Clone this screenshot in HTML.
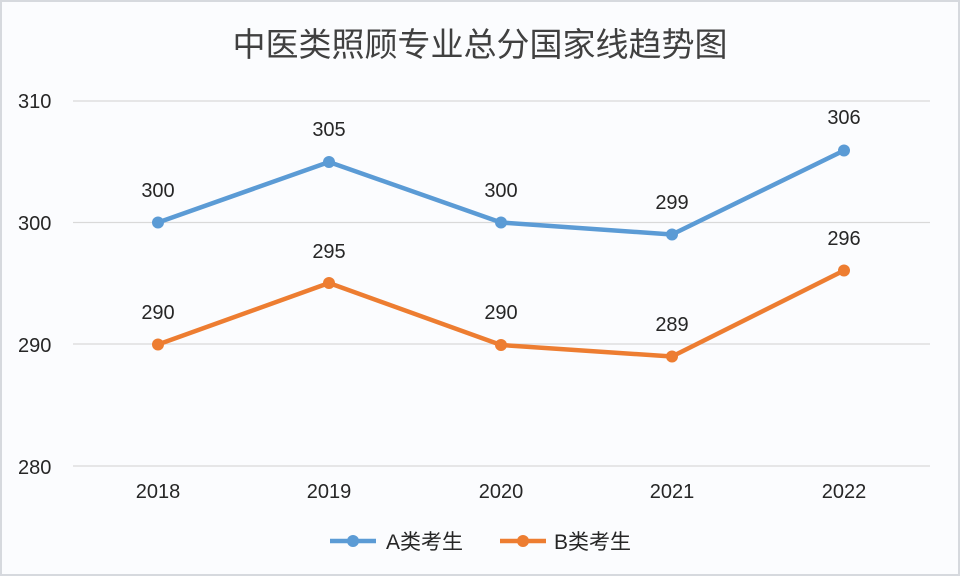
<!DOCTYPE html>
<html><head><meta charset="utf-8"><style>
html,body{margin:0;padding:0;background:#fbfcfe;}
svg{display:block;}
</style></head><body>
<svg width="960" height="576" viewBox="0 0 960 576" xmlns="http://www.w3.org/2000/svg" font-family="'Liberation Sans','Noto Sans CJK SC',sans-serif">
<rect x="0" y="0" width="960" height="576" fill="#fbfcfe"/>
<rect x="1" y="1" width="958" height="574" fill="none" stroke="#d6d9de" stroke-width="2"/>
<text x="480" y="56" text-anchor="middle" font-size="33" fill="#404040" font-family="'Noto Sans CJK SC',sans-serif">中医类照顾专业总分国家线趋势图</text>
<g stroke="#d9d9d9" stroke-width="1.2">
<line x1="73" y1="101" x2="930" y2="101"/>
<line x1="73" y1="222.5" x2="930" y2="222.5"/>
<line x1="73" y1="344" x2="930" y2="344"/>
<line x1="73" y1="466" x2="930" y2="466"/>
</g>
<g font-size="20" fill="#262626">
<text x="18" y="108">310</text>
<text x="18" y="230">300</text>
<text x="18" y="352">290</text>
<text x="18" y="474">280</text>
</g>
<g font-size="20" fill="#262626" text-anchor="middle">
<text x="158" y="498">2018</text>
<text x="329" y="498">2019</text>
<text x="501" y="498">2020</text>
<text x="672" y="498">2021</text>
<text x="844" y="498">2022</text>
</g>
<polyline points="158,222.5 329,162 501,222.5 672,234.5 844,150.5" fill="none" stroke="#5b9bd5" stroke-width="4.5" stroke-linejoin="round"/>
<g fill="#5b9bd5">
<circle cx="158" cy="222.5" r="6"/><circle cx="329" cy="162" r="6"/><circle cx="501" cy="222.5" r="6"/><circle cx="672" cy="234.5" r="6"/><circle cx="844" cy="150.5" r="6"/>
</g>
<polyline points="158,344.5 329,283 501,345 672,356.5 844,270.5" fill="none" stroke="#ed7d31" stroke-width="4.5" stroke-linejoin="round"/>
<g fill="#ed7d31">
<circle cx="158" cy="344.5" r="6"/><circle cx="329" cy="283" r="6"/><circle cx="501" cy="345" r="6"/><circle cx="672" cy="356.5" r="6"/><circle cx="844" cy="270.5" r="6"/>
</g>
<g font-size="20" fill="#262626" text-anchor="middle">
<text x="158" y="197">300</text>
<text x="329" y="136">305</text>
<text x="501" y="197">300</text>
<text x="672" y="209">299</text>
<text x="844" y="124">306</text>
<text x="158" y="319">290</text>
<text x="329" y="258">295</text>
<text x="501" y="319">290</text>
<text x="672" y="331">289</text>
<text x="844" y="245">296</text>
</g>
<line x1="330" y1="541" x2="376" y2="541" stroke="#5b9bd5" stroke-width="4.5"/>
<circle cx="353" cy="541" r="6" fill="#5b9bd5"/>
<text x="386" y="549" font-size="21" fill="#262626">A类考生</text>
<line x1="500" y1="541" x2="546" y2="541" stroke="#ed7d31" stroke-width="4.5"/>
<circle cx="523" cy="541" r="6" fill="#ed7d31"/>
<text x="554" y="549" font-size="21" fill="#262626">B类考生</text>
</svg>
</body></html>
